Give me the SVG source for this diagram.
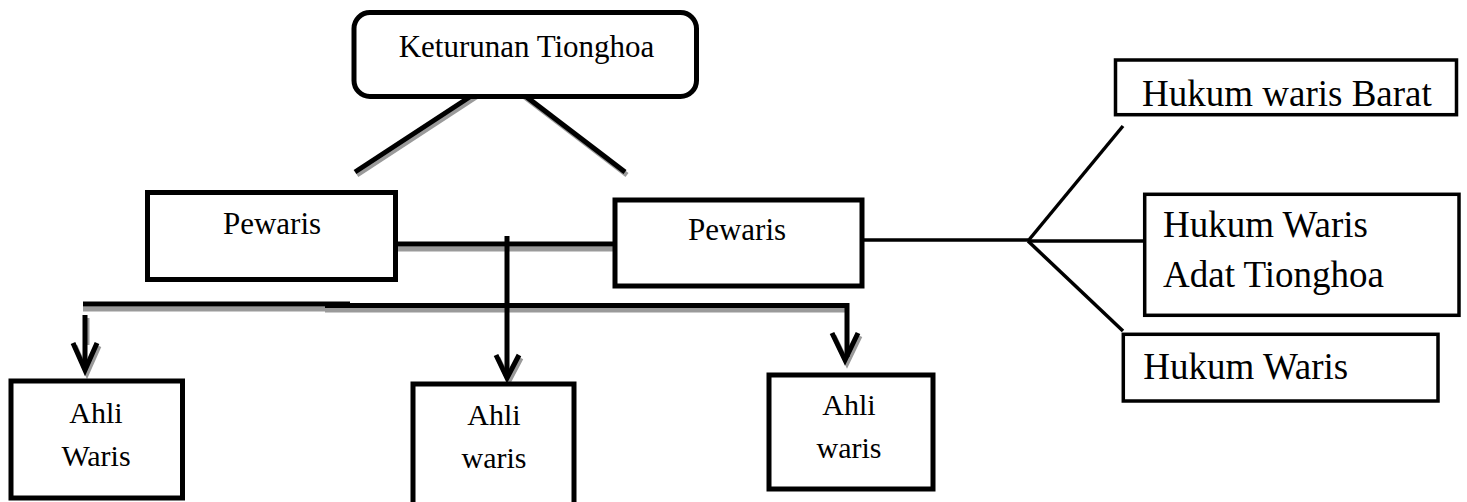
<svg xmlns="http://www.w3.org/2000/svg" width="1467" height="502" viewBox="0 0 1467 502">
<style>
.t{font-family:"Liberation Serif","Times New Roman",serif;fill:#000}
.c{text-anchor:middle}
.box{fill:#fff;stroke:#000;stroke-width:5}
.thin{fill:#fff;stroke:#000;stroke-width:3.5}
.ln{fill:none;stroke:#000;stroke-width:5}
.sh{fill:none;stroke:#9a9a9a;stroke-width:5}
.tl{fill:none;stroke:#000;stroke-width:3.5}
.hd{fill:none;stroke:#000;stroke-width:5;stroke-linejoin:miter;stroke-linecap:butt}
</style>
<rect width="1467" height="502" fill="#fff"/>
<g id="connectors">
  <g id="shadows">
    <line class="sh" x1="490" y1="88" x2="357" y2="175"/>
    <line class="sh" x1="509" y1="85" x2="627" y2="175"/>
    <line class="sh" x1="398" y1="249" x2="613" y2="249"/>
    <line class="sh" x1="83" y1="309" x2="350" y2="309"/>
    <polyline class="sh" points="325,310 849,310"/>
    <line class="sh" x1="87" y1="318" x2="87" y2="345"/>
    <polyline class="sh" points="75,346 87,373 99,346" stroke-width="4"/>
    <polyline class="sh" points="498,358 509,381 521,358" stroke-width="4"/>
    <polyline class="sh" points="834,336 847,363 860,336" stroke-width="4"/>
  </g>
  <line class="ln" x1="488" y1="85" x2="355" y2="172"/>
  <line class="ln" x1="507" y1="82" x2="625" y2="172"/>
  <line class="ln" x1="396" y1="244" x2="615" y2="244"/>
  <line class="ln" x1="507" y1="236" x2="507" y2="376"/>
  <polyline class="hd" points="496,355 507,378 519,355"/>
  <line class="ln" x1="83" y1="304" x2="350" y2="304"/>
  <polyline class="ln" points="325,305.5 847,305.5 847,357"/>
  <polyline class="hd" points="832,333 845,360 858,333"/>
  <line class="ln" x1="85" y1="315" x2="85" y2="367"/>
  <polyline class="hd" points="73,343 85,370 97,343"/>
  <line class="tl" x1="864" y1="240" x2="1028" y2="240"/>
  <line class="tl" x1="1028" y1="241" x2="1123" y2="126"/>
  <line class="tl" x1="1028" y1="241" x2="1143" y2="241"/>
  <line class="tl" x1="1028" y1="241" x2="1123" y2="331"/>
</g>
<g id="n-keturunan">
  <rect class="box" x="354" y="12.5" width="342.5" height="84" rx="16"/>
  <text class="t c" x="526.5" y="57" font-size="31">Keturunan Tionghoa</text>
</g>
<g id="n-pewaris1">
  <rect class="box" x="147.5" y="192.5" width="248" height="87"/>
  <text class="t c" x="272" y="234" font-size="31">Pewaris</text>
</g>
<g id="n-pewaris2">
  <rect class="box" x="615" y="200" width="247" height="86" stroke-width="5.5"/>
  <text class="t c" x="737" y="240" font-size="31">Pewaris</text>
</g>
<g id="n-ahli1">
  <rect class="box" x="11" y="381" width="171.5" height="117"/>
  <text class="t c" x="96" y="422.5" font-size="30">Ahli</text>
  <text class="t c" x="96" y="465.5" font-size="30">Waris</text>
</g>
<g id="n-ahli2">
  <rect class="box" x="413" y="384" width="161" height="121"/>
  <text class="t c" x="494" y="425" font-size="30">Ahli</text>
  <text class="t c" x="494" y="468" font-size="30">waris</text>
</g>
<g id="n-ahli3">
  <rect class="box" x="769" y="375" width="164" height="114"/>
  <text class="t c" x="849" y="415" font-size="30">Ahli</text>
  <text class="t c" x="849" y="458" font-size="30">waris</text>
</g>
<g id="n-barat">
  <rect class="thin" x="1115.5" y="60" width="341" height="54.7"/>
  <text class="t" x="1142" y="106" font-size="37">Hukum waris Barat</text>
</g>
<g id="n-adat">
  <rect class="thin" x="1144.7" y="194.3" width="314.3" height="121"/>
  <text class="t" x="1163" y="237.3" font-size="37">Hukum Waris</text>
  <text class="t" x="1163" y="287.3" font-size="37">Adat Tionghoa</text>
</g>
<g id="n-hukum">
  <rect class="thin" x="1123.3" y="334.3" width="314.7" height="66.7"/>
  <text class="t" x="1143.3" y="379.3" font-size="37">Hukum Waris</text>
</g>
</svg>
